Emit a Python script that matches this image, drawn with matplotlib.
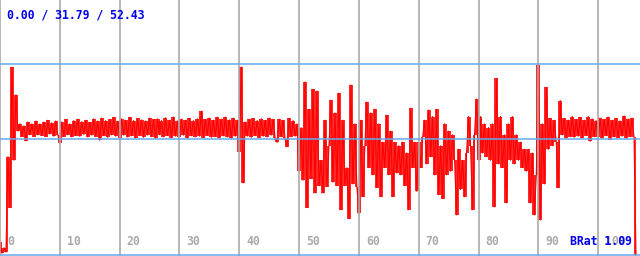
import matplotlib
matplotlib.use("Agg")
import matplotlib.pyplot as plt
import numpy as np

# signal samples, one every 1/3 unit on the x axis
signal = [
    3.5, 0.5, 2.0, 0.8, 27.0, 13.0, 51.5, 26.0, 44.0, 34.0,
    36.0, 32.5, 35.5, 31.3, 36.5, 33.0, 36.0, 32.5, 36.8, 33.0,
    36.0, 32.8, 36.5, 32.5, 37.0, 33.2, 36.3, 32.6, 36.8, 33.0,
    30.7, 36.5, 32.5, 37.2, 33.0, 36.0, 32.4, 36.9, 32.8, 37.3,
    32.6, 36.6, 33.1, 37.0, 32.4, 36.4, 32.9, 37.4, 32.5, 36.8,
    31.5, 37.6, 32.8, 36.9, 32.3, 37.2, 33.0, 37.8, 32.6, 36.7,
    32.2, 37.4, 32.9, 37.0, 32.4, 37.8, 32.7, 36.9, 32.1, 37.5,
    32.8, 37.1, 32.3, 36.8, 32.9, 37.6, 32.5, 37.2, 32.0, 37.4,
    33.0, 36.9, 32.4, 37.7, 32.8, 37.0, 32.2, 37.9, 32.6, 36.8,
    32.3, 37.3, 32.9, 37.0, 32.1, 37.5, 32.7, 36.9, 32.4, 37.4,
    32.6, 39.5, 32.2, 37.2, 32.8, 37.6, 32.3, 37.0, 32.5, 37.8,
    32.1, 37.3, 32.7, 37.9, 32.4, 37.1, 32.0, 37.6, 32.6, 37.0,
    28.3, 51.6, 19.8, 36.5, 32.6, 37.2, 32.3, 37.5, 32.8, 36.9,
    32.2, 37.4, 32.6, 37.0, 32.4, 37.6, 32.9, 37.2, 32.1, 30.9,
    37.3, 32.5, 37.0, 31.8, 29.7, 37.5, 32.4, 36.9, 32.6, 36.0,
    23.0, 35.0, 20.5, 47.5, 13.0, 40.0, 21.0, 45.5, 17.0, 45.0,
    19.0, 26.0, 17.0, 37.0, 18.8, 30.0, 42.5, 20.0, 39.0, 19.0,
    44.4, 12.4, 37.0, 19.0, 24.0, 10.0, 46.7, 19.5, 36.0, 18.8,
    11.4, 37.0, 16.0, 30.0, 42.0, 24.0, 39.0, 22.0, 40.0, 18.5,
    36.0, 16.0, 31.0, 24.0, 38.4, 22.0, 34.0, 16.0, 31.0, 22.5,
    30.0, 22.0, 31.0, 19.0, 28.0, 12.4, 40.3, 24.0, 31.0, 17.5,
    31.0, 24.0, 32.5, 37.0, 25.0, 39.8, 27.0, 38.0, 22.0, 40.0,
    16.5, 30.0, 15.5, 36.0, 22.0, 34.0, 23.0, 33.0, 26.0, 11.0,
    29.0, 18.0, 26.0, 16.0, 28.0, 38.0, 30.0, 12.4, 33.0, 42.8,
    26.0, 38.0, 28.0, 36.0, 27.0, 35.0, 26.0, 36.0, 13.2, 48.5,
    25.0, 38.0, 24.0, 33.0, 14.3, 36.0, 26.0, 38.0, 25.0, 33.0,
    26.0, 31.0, 24.0, 29.0, 23.0, 29.0, 14.3, 28.0, 11.0, 22.0,
    52.2, 9.6, 36.0, 19.5, 46.0, 29.0, 37.5, 30.0, 37.0, 31.0,
    18.5, 42.4, 33.0, 37.5, 32.0, 37.0, 32.5, 38.0, 32.3, 37.2,
    32.6, 37.8, 32.1, 37.0, 32.8, 38.0, 31.2, 37.4, 32.5, 36.9,
    32.4, 37.6, 32.0, 37.2, 32.7, 37.9, 31.6, 37.0, 32.4, 37.5,
    32.2, 36.8, 32.6, 38.2, 32.0, 37.3, 32.5, 37.6, 32.3, 0.0,
]
step = 1 / 3

stat_min, stat_mean, stat_max = 0.00, 31.79, 52.43
brat = 1.09
xticks = [0, 10, 20, 30, 40, 50, 60, 70, 80, 90, 100]

x = np.arange(len(signal)) * step
s = np.array(signal)

fig = plt.figure(figsize=(6.4, 2.56), dpi=100)
ax = fig.add_axes([0, 0, 1, 1])
ax.set_xlim(0, 107)
ax.set_ylim(-0.27, 70.0)
ax.axis("off")

for t in xticks:
    ax.axvline(t, color="#aaaaaa", lw=1.2, zorder=3)

# each column filled between neighbouring samples, like a min/max trace
ax.vlines(x[:-1] + step / 2, np.minimum(s[:-1], s[1:]), np.maximum(s[:-1], s[1:]),
          color="#ff0000", lw=1.2, zorder=2)
ax.plot(x, s, color="#ff0000", lw=0.8, zorder=2)

for v in (stat_min, stat_mean, stat_max):
    ax.axhline(v, color="#66aaee", lw=1.1, zorder=4)

font = dict(family="DejaVu Sans Mono", weight="bold", size=8.3)
ax.text(1.1, 64.8, "%.2f / %.2f / %.2f" % (stat_min, stat_mean, stat_max),
        color="#0000ee", va="baseline", ha="left", zorder=5, **font)

for t in xticks:
    ax.text(t + 1.15, 2.75, str(t), color="#aaaaaa", va="baseline", ha="left",
            zorder=5, **font)

ax.text(105.6, 2.75, "BRat %.2f" % brat, color="#0000ee", va="baseline",
        ha="right", zorder=6, **font)

fig.savefig("out.png", dpi=100)
